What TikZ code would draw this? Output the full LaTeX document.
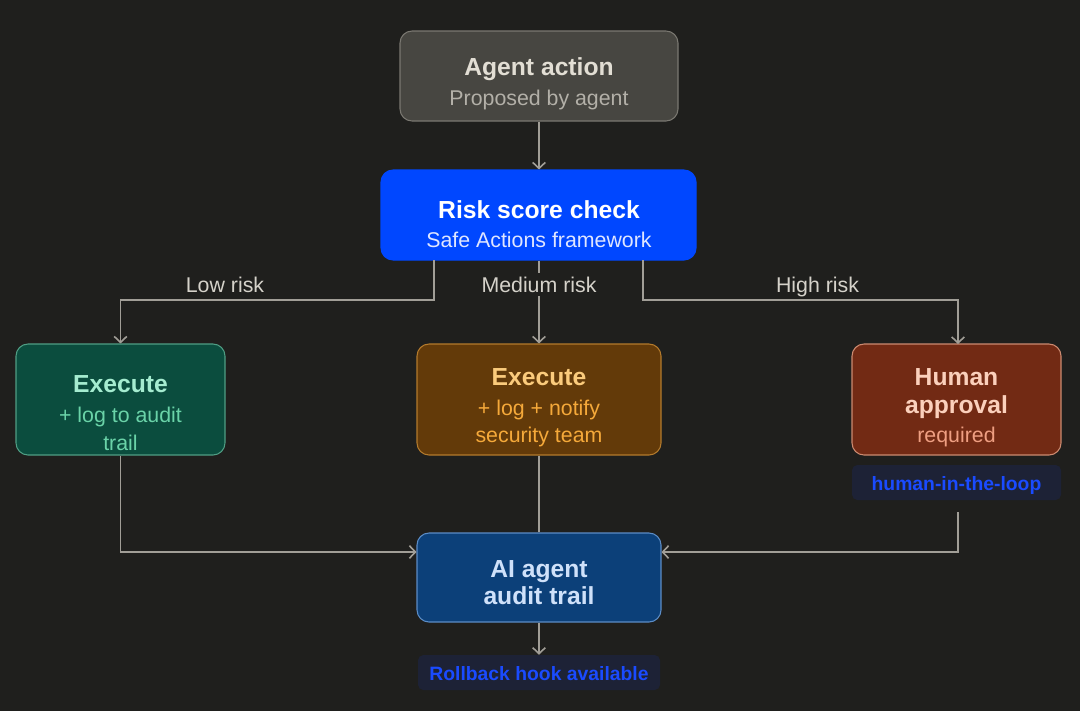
\documentclass[tikz,border=0pt]{standalone}
\usepackage{fontspec}
\setmainfont{Liberation Sans}
\usetikzlibrary{arrows.meta}
\definecolor{bg}{HTML}{1F1F1D}
\definecolor{linec}{HTML}{A19E97}
\definecolor{labc}{HTML}{D5D2CA}
\definecolor{agentF}{HTML}{474641}
\definecolor{agentD}{HTML}{7A7871}
\definecolor{agentT}{HTML}{E2DED4}
\definecolor{agentS}{HTML}{B3B0A8}
\definecolor{riskF}{HTML}{0047FF}
\definecolor{riskT}{HTML}{FFFFFF}
\definecolor{riskS}{HTML}{DFE6FF}
\definecolor{lowF}{HTML}{0B4D3E}
\definecolor{lowD}{HTML}{4F9E84}
\definecolor{lowT}{HTML}{A5ECD0}
\definecolor{lowS}{HTML}{6AD3A8}
\definecolor{medF}{HTML}{633A09}
\definecolor{medD}{HTML}{B37A2C}
\definecolor{medT}{HTML}{FBCB7C}
\definecolor{medS}{HTML}{F5A93A}
\definecolor{humF}{HTML}{722A14}
\definecolor{humD}{HTML}{CC8A70}
\definecolor{humT}{HTML}{FBD0BC}
\definecolor{humS}{HTML}{EF9F82}
\definecolor{audF}{HTML}{0C4079}
\definecolor{audD}{HTML}{5B8CC6}
\definecolor{audT}{HTML}{CFE1FA}
\definecolor{tagF}{HTML}{1D2236}
\definecolor{tagT}{HTML}{1A4BFF}
\begin{document}
\begin{tikzpicture}[x=0.75pt,y=-0.75pt,
  box/.style={rounded corners=9pt, line width=0.8pt, inner sep=0pt},
  ttl/.style={anchor=base, inner sep=0pt, font=\fontsize{18.5}{21.5}\selectfont\bfseries},
  sub/.style={anchor=base, inner sep=0pt, font=\fontsize{16}{21.5}\selectfont},
  tag/.style={rounded corners=4pt, fill=tagF, inner sep=0pt, minimum height=26.25pt},
  tagtxt/.style={anchor=base, inner sep=0pt, text=tagT, font=\fontsize{14.5}{17}\selectfont\bfseries},
  risklab/.style={anchor=base, text=labc, font=\fontsize{16}{19}\selectfont},
  conn/.style={draw=linec, line width=1.4pt},
  arr/.style={conn, -{Straight Barb[length=4.5pt,width=9.5pt,line width=1.2pt]}}
]
\useasboundingbox (0,0) rectangle (1080,711);
\fill[bg] (0,0) rectangle (1080,711);

% boxes
\node[box, fill=agentF, draw=agentD, minimum width=208.5pt, minimum height=67.5pt] (agent) at (539,76) {};
\node[box, fill=riskF, draw=riskF, minimum width=236.25pt, minimum height=67.5pt] (risk) at (538.5,215) {};
\node[box, fill=lowF, draw=lowD, minimum width=156.75pt, minimum height=83.25pt] (low) at (120.5,399.5) {};
\node[box, fill=medF, draw=medD, minimum width=183pt, minimum height=83.25pt] (med) at (539,399.5) {};
\node[box, fill=humF, draw=humD, minimum width=156.75pt, minimum height=83.25pt] (human) at (956.5,399.5) {};
\node[box, fill=audF, draw=audD, minimum width=183pt, minimum height=66.75pt] (audit) at (539,577.5) {};
\node[tag, minimum width=156.75pt] (hitl) at (956.5,482.5) {};
\node[tag, minimum width=181.5pt] (roll) at (539,672.5) {};

% texts
\node[ttl, text=agentT] (agentA) at (539,75) {Agent action};
\node[sub, text=agentS] (agentB) at (539,105) {Proposed by agent};
\node[ttl, text=riskT] (riskA) at (539,218) {Risk score check};
\node[sub, text=riskS] (riskB) at (539,247) {Safe Actions framework};
\node[ttl, text=lowT] (lowA) at (120.5,392) {Execute};
\node[sub, text=lowS] (lowB) at (120.5,422.5) {+ log to audit};
\node[sub, text=lowS] (lowC) at (120.5,450) {trail};
\node[ttl, text=medT] (medA) at (539,385) {Execute};
\node[sub, text=medS] (medB) at (539,415) {+ log + notify};
\node[sub, text=medS] (medC) at (539,442.5) {security team};
\node[ttl, text=humT] (humA) at (956.5,385) {Human};
\node[ttl, text=humT] (humB) at (956.5,413) {approval};
\node[sub, text=humS] (humC) at (956.5,442) {required};
\node[ttl, text=audT] (audA) at (539,577) {AI agent};
\node[ttl, text=audT] (audB) at (539,604) {audit trail};
\node[tagtxt] (hitlT) at (956.5,490) {human-in-the-loop};
\node[tagtxt] (rollT) at (539,680) {Rollback hook available};

% connectors
\coordinate (lowstart) at (434,260);
\coordinate (highstart) at (643,260);
\coordinate (hstart) at (958,512);
\draw[arr] (agent.south) -- (agent.south |- risk.north);
\draw[arr] (lowstart) -- ++(0,40) -| (low.north);
\draw[arr] (highstart) -- ++(0,40) -| (958,344);
\draw[arr] (med.north |- risk.south) -- (med.north);
\draw[arr] (low.south) |- (audit.west |- 0,552);
\draw[arr] (hstart) |- (audit.east |- 0,552);
\draw[conn] (med.south) -- (audit.north);
\draw[arr] (audit.south) -- (roll.north);

% branch labels
\node[risklab] (lowlab) at (225,292) {Low risk};
\node[risklab, fill=bg, inner sep=3pt] (medlab) at (539,292) {Medium risk};
\node[risklab] (highlab) at (817.5,292) {High risk};
\end{tikzpicture}
\end{document}
